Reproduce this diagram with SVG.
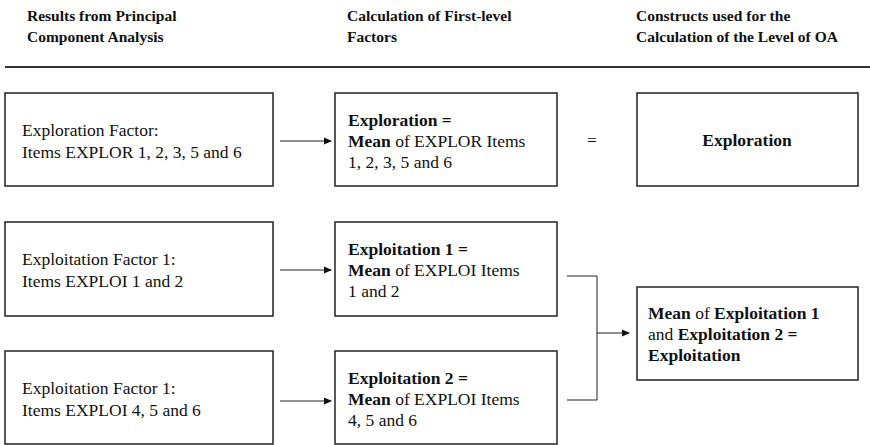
<svg xmlns="http://www.w3.org/2000/svg" width="870" height="445" viewBox="0 0 870 445">
<defs>
<marker id="ah" markerWidth="8" markerHeight="8" refX="7" refY="4" orient="auto" markerUnits="userSpaceOnUse">
<path d="M0,0.5 L8,4 L0,7.5 Z" fill="#111"/>
</marker>
<style>
.box{fill:#fff;stroke:#222;stroke-width:1.5}
.t{font-family:"Liberation Serif","Times New Roman",Times,"DejaVu Serif",serif;font-size:17.5px;fill:#111}
.h{font-family:"Liberation Serif","Times New Roman",Times,"DejaVu Serif",serif;font-size:15.5px;font-weight:bold;fill:#111}
.b{font-weight:bold}
.c{fill:none;stroke:#222;stroke-width:1}
</style>
</defs>
<rect width="870" height="445" fill="#fff"/>
<g id="header">
<text class="h" x="27" y="21">Results from Principal</text>
<text class="h" x="27" y="42">Component Analysis</text>
<text class="h" x="347" y="21">Calculation of First-level</text>
<text class="h" x="347" y="42">Factors</text>
<text class="h" x="636" y="21">Constructs used for the</text>
<text class="h" x="636" y="42">Calculation of the Level of OA</text>
<line x1="5" y1="67" x2="870" y2="67" stroke="#333" stroke-width="2.2"/>
</g>
<g id="pca-explor">
<rect class="box" x="5" y="93" width="268" height="93"/>
<text class="t" x="22" y="136">Exploration Factor:</text>
<text class="t" x="22" y="158">Items EXPLOR 1, 2, 3, 5 and 6</text>
</g>
<g id="calc-explor">
<rect class="box" x="335" y="93" width="222" height="93"/>
<text class="t" x="348" y="126"><tspan class="b">Exploration =</tspan></text>
<text class="t" x="348" y="147"><tspan class="b">Mean</tspan> of EXPLOR Items</text>
<text class="t" x="348" y="168">1, 2, 3, 5 and 6</text>
</g>
<g id="equals">
<text class="t" x="592" y="146" text-anchor="middle">=</text>
</g>
<g id="construct-explor">
<rect class="box" x="637" y="93" width="221" height="93"/>
<text class="t b" x="747" y="146" text-anchor="middle">Exploration</text>
</g>
<g id="pca-exploi1">
<rect class="box" x="5" y="222" width="268" height="94"/>
<text class="t" x="22" y="265">Exploitation Factor 1:</text>
<text class="t" x="22" y="287">Items EXPLOI 1 and 2</text>
</g>
<g id="calc-exploi1">
<rect class="box" x="335" y="222" width="222" height="94"/>
<text class="t" x="348" y="255"><tspan class="b">Exploitation 1 =</tspan></text>
<text class="t" x="348" y="276"><tspan class="b">Mean</tspan> of EXPLOI Items</text>
<text class="t" x="348" y="297">1 and 2</text>
</g>
<g id="pca-exploi2">
<rect class="box" x="5" y="351" width="268" height="93"/>
<text class="t" x="22" y="394">Exploitation Factor 1:</text>
<text class="t" x="22" y="416">Items EXPLOI 4, 5 and 6</text>
</g>
<g id="calc-exploi2">
<rect class="box" x="335" y="351" width="222" height="93"/>
<text class="t" x="348" y="384"><tspan class="b">Exploitation 2 =</tspan></text>
<text class="t" x="348" y="405"><tspan class="b">Mean</tspan> of EXPLOI Items</text>
<text class="t" x="348" y="426">4, 5 and 6</text>
</g>
<g id="construct-exploi">
<rect class="box" x="637" y="287" width="221" height="93"/>
<text class="t" x="648" y="319"><tspan class="b">Mean</tspan> of <tspan class="b">Exploitation 1</tspan></text>
<text class="t" x="648" y="340">and <tspan class="b">Exploitation 2 =</tspan></text>
<text class="t b" x="648" y="361">Exploitation</text>
</g>
<g id="connectors">
<line class="c" x1="280" y1="141" x2="331" y2="141" marker-end="url(#ah)"/>
<line class="c" x1="280" y1="270" x2="331" y2="270" marker-end="url(#ah)"/>
<line class="c" x1="280" y1="401" x2="331" y2="401" marker-end="url(#ah)"/>
<polyline class="c" points="567,276 597,276 597,400 567,400"/>
<line class="c" x1="597" y1="333" x2="629" y2="333" marker-end="url(#ah)"/>
</g>
</svg>
